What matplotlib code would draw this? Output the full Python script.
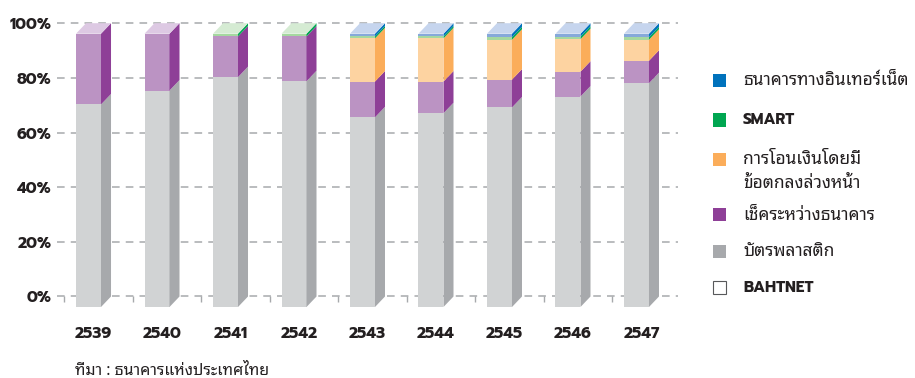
import matplotlib
matplotlib.use("Agg")
import matplotlib.pyplot as plt
from matplotlib.patches import Polygon, Rectangle

# Share of payment values by channel (%), stacked from the bottom up
YEARS = ["2539", "2540", "2541", "2542", "2543", "2544", "2545", "2546", "2547"]
CARDS = [74.1, 79.2, 84.1, 82.6, 69.4, 70.9, 73.0, 77.0, 81.9]
CHEQUES = [25.9, 20.8, 14.9, 16.4, 13.1, 11.6, 10.2, 9.1, 8.2]
GIRO = [0.0, 0.0, 0.0, 0.0, 15.8, 15.8, 14.6, 11.9, 7.7]
SMART = [0.0, 0.0, 1.0, 1.0, 0.7, 0.7, 0.9, 0.9, 0.9]
INTERNET = [0.0, 0.0, 0.0, 0.0, 1.0, 1.0, 1.3, 1.1, 1.3]
BAHTNET = [0.0, 0.0, 0.0, 0.0, 0.0, 0.0, 0.0, 0.0, 0.0]

LBL_INTERNET = "ธนาคารทางอินเทอร์เน็ต"
LBL_SMART = "SMART"
LBL_GIRO = "การโอนเงินโดยมี\nข้อตกลงล่วงหน้า"
LBL_CHEQUES = "เช็คระหว่างธนาคาร"
LBL_CARDS = "บัตรพลาสติก"
LBL_BAHTNET = "BAHTNET"
SOURCE = "ที่มา : ธนาคารแห่งประเทศไทย"

# (front, side, top, legend) colours per series
STYLE = {
    "cards": ("#d1d3d4", "#a7a9ac", "#e6e7e8", "#a7a9ac"),
    "cheques": ("#bb93c3", "#8e3f97", "#ddc9e3", "#8e3f97"),
    "giro": ("#fdd3a1", "#fbad5a", "#feeacf", "#fbad5a"),
    "smart": ("#a5d8a0", "#00a651", "#d5ebd3", "#00a651"),
    "internet": ("#86a9da", "#0072bc", "#c6d5ee", "#0072bc"),
    "bahtnet": ("#ffffff", "#e6e7e8", "#ffffff", "#ffffff"),
}

LATIN = ["Prompt", "DejaVu Sans"]
THAI = ["Noto Sans Thai Looped", "Noto Sans Thai", "DejaVu Sans"]
INK = "#231f20"

# bar geometry in data units (x: categories, y: percent)
HALF_W = 0.1825
DX = 0.146
DY = 3.84

fig = plt.figure(figsize=(9.15, 3.78), dpi=100)
ax = fig.add_axes([57 / 915, 1 - 315 / 378, (678 - 57) / 915, 300 / 378])
ax.set_xlim(-0.606, 8.46)
ax.set_ylim(-6.77, 103.0)
for s in ax.spines.values():
    s.set_visible(False)

# dashed grid on the back plane
yt = [0, 20, 40, 60, 80, 100]
ax.hlines(yt, -0.606, 8.46, colors="#a7a9ac", linestyles=(0, (5, 4)),
          linewidth=1.1, zorder=0)
bounds = [i - 0.5 for i in range(len(YEARS) + 1)]
ax.vlines(bounds, -2.0, 0, colors="#a7a9ac", linewidth=1.0, zorder=0)

series = [("cards", CARDS), ("cheques", CHEQUES), ("giro", GIRO),
          ("smart", SMART), ("internet", INTERNET), ("bahtnet", BAHTNET)]

for i in range(len(YEARS)):
    fl = i - HALF_W - DX
    fr = i + HALF_W - DX
    base = 0.0
    top_key = "cards"
    for key, vals in series:
        v = vals[i]
        if v <= 0:
            continue
        front, side, _, _ = STYLE[key]
        y0, y1 = base, base + v
        ax.add_patch(Rectangle((fl, y0 - DY), fr - fl, v, facecolor=front,
                               edgecolor="none", zorder=2))
        ax.add_patch(Polygon([(fr, y0 - DY), (fr + DX, y0), (fr + DX, y1),
                              (fr, y1 - DY)], closed=True, facecolor=side,
                             edgecolor="none", zorder=2))
        base = y1
        top_key = key
    ax.add_patch(Polygon([(fl, base - DY), (fr, base - DY), (fr + DX, base),
                          (fl + DX, base)], closed=True,
                         facecolor=STYLE[top_key][2], edgecolor="none", zorder=2))

ax.set_yticks(yt)
ax.set_yticklabels([f"{v}%" for v in yt], family=LATIN, fontweight="bold",
                   fontsize=11.3, color=INK)
ax.set_xticks([i - 0.073 for i in range(len(YEARS))])
ax.set_xticklabels(YEARS, family=LATIN, fontweight="bold", fontsize=11.3,
                   color=INK)
ax.tick_params(axis="y", length=0, pad=4)
ax.tick_params(axis="x", length=0, pad=8)

# legend, drawn row by row (each label line placed on its own baseline)
rows = [
    (80.5, STYLE["internet"][3], LBL_INTERNET, THAI, "normal"),
    (120, STYLE["smart"][3], LBL_SMART, LATIN, "bold"),
    (159.5, STYLE["giro"][3], LBL_GIRO, THAI, "normal"),
    (215, STYLE["cheques"][3], LBL_CHEQUES, THAI, "normal"),
    (251.5, STYLE["cards"][3], LBL_CARDS, THAI, "normal"),
    (287, STYLE["bahtnet"][3], LBL_BAHTNET, LATIN, "bold"),
]
W, H = 915, 378
for yc, col, text, fam, wt in rows:
    edge = "#58595b" if col == "#ffffff" else "none"
    fig.patches.append(Rectangle((713 / W, 1 - (yc + 6.5) / H), 13 / W, 13 / H,
                                 transform=fig.transFigure, facecolor=col,
                                 edgecolor=edge, linewidth=0.8))
    size = 11 if fam is LATIN else 12.5
    for k, line in enumerate(text.split("\n")):
        fig.text(743 / W, 1 - (yc + 4.5 + 24.5 * k) / H, line, family=fam,
                 fontweight=wt, fontsize=size, color=INK, va="baseline",
                 ha="left")

fig.text(75 / W, 1 - 374.5 / H, SOURCE, family=THAI, fontsize=11.5, color=INK,
         va="baseline", ha="left")

fig.savefig("out.png", dpi=100)
